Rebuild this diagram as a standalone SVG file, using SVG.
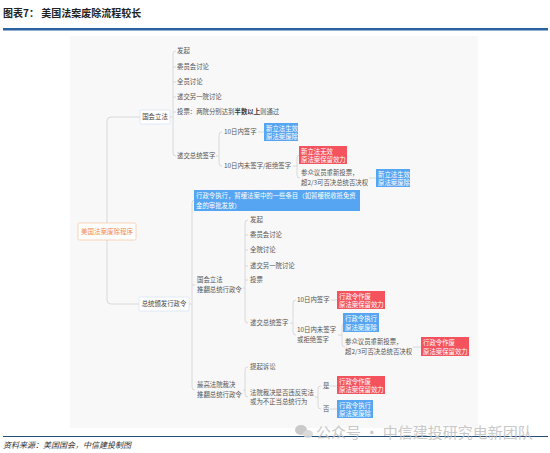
<svg xmlns="http://www.w3.org/2000/svg" width="550" height="453" viewBox="0 0 550 453">
<style>
text{font-family:"Noto Sans CJK SC","Liberation Sans",sans-serif;}
.t{font-size:6.4px;fill:#555;}
.w{font-size:6.4px;fill:#fff;}
.c{fill:none;stroke:#d0d0d0;stroke-width:0.8;}
.red{fill:#f4535d;}
.blue{fill:#55a5f2;}
.nb{fill:#fff;stroke:#d6e4f5;stroke-width:0.8;}
</style>
<rect x="0" y="0" width="550" height="453" fill="#fff"/>
<text x="3" y="17" style="font-size:10px;font-weight:bold;fill:#222;">图表7： 美国法案废除流程较长</text>
<rect x="3" y="28" width="545" height="2.5" fill="#2b62a0"/>
<rect x="70" y="36" width="408" height="392" fill="#f8f8f8"/>

<g id="connectors">
<path class="c" d="M140,117 H111 Q107,117 107,121 V300 Q107,304 111,304 H139"/>
<path class="c" d="M170,117 H173 M176,51 Q173,51 173,54 V153 Q173,156 176,156 M173,67 H176 M173,82 H176 M173,97 H176 M173,112 H176"/>
<path class="c" d="M216,156 H219 M222,132 Q219,132 219,135 V163 Q219,166 222,166"/>
<path class="c" d="M258,132 H264"/>
<path class="c" d="M293,166 H297 M300,155 Q297,155 297,158 V175 Q297,178 300,178"/>
<path class="c" d="M369,178 H376"/>
<path class="c" d="M189,304 H192 M195,200 Q192,200 192,203 V387 Q192,390 195,390 M192,285 H195"/>
<path class="c" d="M243,288 H245 M248,220 Q245,220 245,223 V320 Q245,323 248,323 M245,235 H248 M245,250 H248 M245,266 H248 M245,280 H248"/>
<path class="c" d="M290,323 H293 M296,300 Q293,300 293,303 V332 Q293,335 296,335"/>
<path class="c" d="M331,300 H337"/>
<path class="c" d="M338,335 H342 M345,323 Q342,323 342,326 V344 Q342,347 345,347"/>
<path class="c" d="M413,347 H421"/>
<path class="c" d="M243,390 H245 M248,367 Q245,367 245,370 V394 Q245,397 248,397"/>
<path class="c" d="M315,397 H318 M321,386 Q318,386 318,389 V406 Q318,409 321,409"/>
<path class="c" d="M330,386 H337 M330,409 H337"/>
</g>

<g id="root">
<rect x="78" y="223" width="58" height="17" rx="1.5" fill="#fff" stroke="#f6c8a8" stroke-width="0.8"/>
<text x="107" y="234" text-anchor="middle" style="font-size:6.5px;fill:#f08a4b;">美国法案废除程序</text>
</g>

<g id="n_congress">
<rect class="nb" x="140" y="110" width="30" height="14" rx="1"/>
<text class="t" x="155" y="119.3" text-anchor="middle" style="fill:#444;">国会立法</text>
</g>
<g id="n_c1"><text class="t" x="177" y="53.3">发起</text></g>
<g id="n_c2"><text class="t" x="177" y="69.3">委员会讨论</text></g>
<g id="n_c3"><text class="t" x="177" y="84.3">全员讨论</text></g>
<g id="n_c4"><text class="t" x="177" y="99.3">递交另一院讨论</text></g>
<g id="n_c5"><text class="t" x="177" y="114.3">投票：两院分别达到<tspan style="font-weight:bold;fill:#333;">半数以上</tspan>则通过</text></g>
<g id="n_c6"><text class="t" x="177" y="158.3">递交总统签字</text></g>
<g id="n_c7"><text class="t" x="224" y="134.3">10日内签字</text></g>
<g id="n_c8">
<rect class="blue" x="264" y="123" width="34" height="18"/>
<text class="w" x="266" y="130.5">新立法生效</text>
<text class="w" x="266" y="139">原法案废除</text>
</g>
<g id="n_c9"><text class="t" x="224" y="168.3">10日内未签字/拒绝签字</text></g>
<g id="n_c10">
<rect class="red" x="299" y="146" width="48" height="18"/>
<text class="w" x="301" y="153.5">新立法无效</text>
<text class="w" x="301" y="162">原法案保留效力</text>
</g>
<g id="n_c11">
<text class="t" x="301" y="175.3">参众议员重新投票，</text>
<text class="t" x="301" y="185.3">超2/3可否决总统否决权</text>
</g>
<g id="n_c12">
<rect class="blue" x="376" y="169" width="34" height="18"/>
<text class="w" x="378" y="176.5">新立法生效</text>
<text class="w" x="378" y="185">原法案废除</text>
</g>

<g id="n_exec">
<rect class="nb" x="139" y="297" width="50" height="14" rx="1"/>
<text class="t" x="164" y="306.3" text-anchor="middle" style="fill:#444;">总统颁发行政令</text>
</g>
<g id="n_e1">
<rect class="blue" x="194" y="190" width="166" height="21"/>
<text class="w" x="196" y="198">行政令执行，暂缓法案中的一些条目（如暂缓税收抵免资</text>
<text class="w" x="196" y="207.5">金的审批发放）</text>
</g>
<g id="n_e2">
<text class="t" x="197" y="282.3">国会立法</text>
<text class="t" x="197" y="292.3">推翻总统行政令</text>
</g>
<g id="n_e3"><text class="t" x="250" y="222.3">发起</text></g>
<g id="n_e4"><text class="t" x="250" y="237.3">委员会讨论</text></g>
<g id="n_e5"><text class="t" x="250" y="252.3">全院讨论</text></g>
<g id="n_e6"><text class="t" x="250" y="268.3">递交另一院讨论</text></g>
<g id="n_e7"><text class="t" x="250" y="282.3">投票</text></g>
<g id="n_e8"><text class="t" x="250" y="325.3">递交总统签字</text></g>
<g id="n_e9"><text class="t" x="297" y="302.3">10日内签字</text></g>
<g id="n_e10">
<rect class="red" x="337" y="291" width="48" height="18"/>
<text class="w" x="339" y="298.5">行政令作废</text>
<text class="w" x="339" y="307">原法案保留效力</text>
</g>
<g id="n_e11">
<text class="t" x="297" y="332.3">10日内未签字</text>
<text class="t" x="297" y="342.3">或拒绝签字</text>
</g>
<g id="n_e12">
<rect class="blue" x="343" y="313" width="36" height="19"/>
<text class="w" x="345" y="321">行政令执行</text>
<text class="w" x="345" y="329.5">原法案废除</text>
</g>
<g id="n_e13">
<text class="t" x="345" y="344.3">参众议员重新投票，</text>
<text class="t" x="345" y="354.3">超2/3可否决总统否决权</text>
</g>
<g id="n_e14">
<rect class="red" x="421" y="337" width="48" height="19"/>
<text class="w" x="423" y="345">行政令作废</text>
<text class="w" x="423" y="353.5">原法案保留效力</text>
</g>
<g id="n_e15">
<text class="t" x="197" y="387.3">最高法院裁决</text>
<text class="t" x="197" y="397.3">推翻总统行政令</text>
</g>
<g id="n_e16"><text class="t" x="250" y="369.3">提起诉讼</text></g>
<g id="n_e17">
<text class="t" x="250" y="395.3">法院裁决是否违反宪法</text>
<text class="t" x="250" y="404.3">或为不正当总统行为</text>
</g>
<g id="n_e18"><text class="t" x="323" y="388.3">是</text></g>
<g id="n_e19"><text class="t" x="323" y="411.3">否</text></g>
<g id="n_e20">
<rect class="red" x="337" y="376" width="48" height="18"/>
<text class="w" x="339" y="383.5">行政令作废</text>
<text class="w" x="339" y="392">原法案保留效力</text>
</g>
<g id="n_e21">
<rect class="blue" x="337" y="400" width="36" height="18"/>
<text class="w" x="339" y="407.5">行政令执行</text>
<text class="w" x="339" y="416">原法案废除</text>
</g>

<rect x="3" y="436" width="545" height="1" fill="#1f4e79"/>
<g id="watermark" opacity="0.9">
<ellipse cx="301" cy="430" rx="6" ry="5" fill="#c4c4c4"/>
<ellipse cx="308" cy="434" rx="5" ry="4" fill="#d6d6d6"/>
<text x="316" y="438" style="font-size:15px;fill:#c4c4c4;">公众号 · 中信建投研究电新团队</text>
</g>
<text x="3" y="448" style="font-size:8px;font-style:italic;fill:#333;">资料来源：美国国会，中信建投制图</text>
</svg>
